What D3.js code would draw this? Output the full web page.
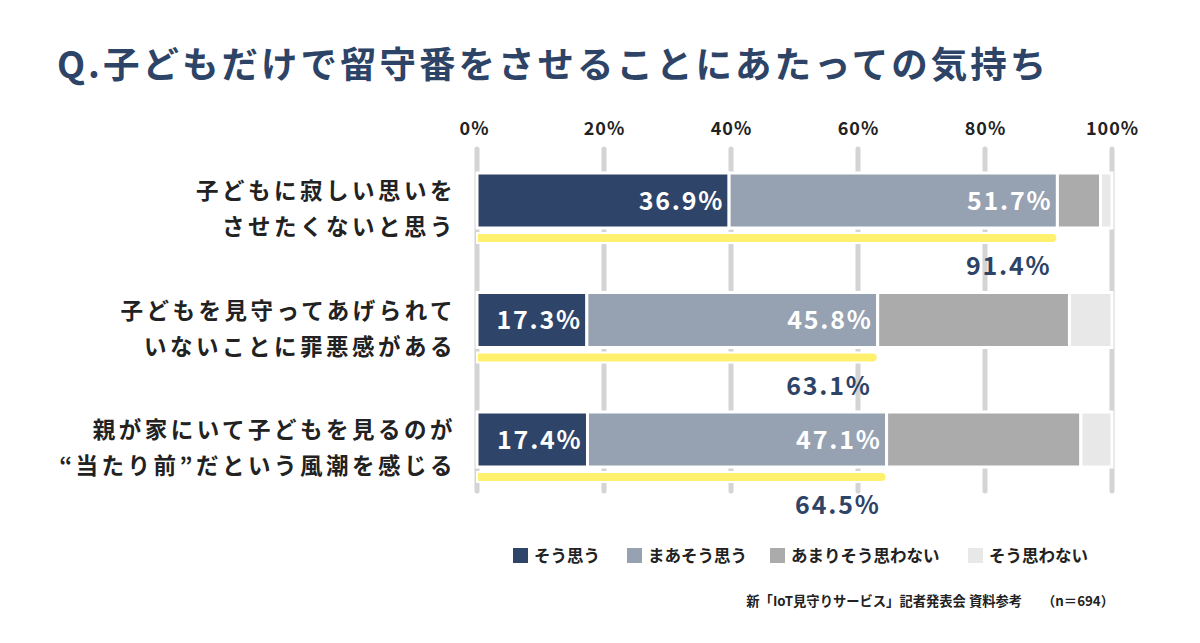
<!DOCTYPE html>
<html><head><meta charset="utf-8">
<script src="https://cdn.jsdelivr.net/npm/d3@7"></script>
<style>
html,body{margin:0;padding:0;background:#fff;}
text{font-family:"Noto Sans CJK JP","Noto Sans",sans-serif;}
</style></head>
<body>
<svg id="chart" width="1200" height="643"></svg>
<script>
const title = "Q.子どもだけで留守番をさせることにあたっての気持ち";
const categories = [
  ["子どもに寂しい思いを","させたくないと思う"],
  ["子どもを見守ってあげられて","いないことに罪悪感がある"],
  ["親が家にいて子どもを見るのが","“当たり前”だという風潮を感じる"]
];
const seriesNames = ["そう思う","まあそう思う","あまりそう思わない","そう思わない"];
const seriesColors = ["#2e4569","#96a2b2","#ababab","#e8e8e8"];
const soOmou      = [39.7, 17.3, 17.4];
const maaSoOmou   = [51.7, 45.8, 47.1];
const amariOmowanai = [6.8, 30.2, 30.6];
const soOmowanai  = [1.8, 6.7, 4.9];
const barLabels = [["36.9%","51.7%"],["17.3%","45.8%"],["17.4%","47.1%"]];
const totals = [91.4, 63.1, 64.5];
const tickValues = [0,20,40,60,80,100];
const source = "新「IoT見守りサービス」記者発表会 資料参考　　（n＝694）";

const svg = d3.select("#chart");
const x = d3.scaleLinear().domain([0,100]).range([477,1112]);
const bh = 55;
const rowTop = i => 173 + i*119.5;

// title
svg.append("text").attr("x",57).attr("y",78).attr("fill","#2d4467")
  .attr("font-size",36.5).attr("font-weight",700).attr("letter-spacing",3).text(title);

// gridlines
svg.append("g").selectAll("line").data(tickValues).join("line")
  .attr("x1",d=>x(d)).attr("x2",d=>x(d)).attr("y1",149).attr("y2",491)
  .attr("stroke","#d4d4d4").attr("stroke-width",5).attr("stroke-linecap","round");

// axis ticks
const axis = d3.axisTop(x).tickValues(tickValues).tickFormat(d=>d+"%").tickSize(0);
const ag = svg.append("g").attr("transform","translate(0,138)").call(axis);
ag.select(".domain").remove();
ag.selectAll("text").attr("font-size",18).attr("font-weight",700).attr("fill","#222")
  .attr("letter-spacing",1).attr("font-family",'"Noto Sans CJK JP",sans-serif');
ag.selectAll(".tick").filter(d=>d===0).select("text").attr("dx",-3);

const series = [soOmou, maaSoOmou, amariOmowanai, soOmowanai];
const rows = categories.map((c,i)=>{
  let acc=0;
  return series.map((s,k)=>{const r={i,k,x0:acc,x1:acc+s[i]}; acc+=s[i]; return r;});
});

rows.forEach((segs,i)=>{
  const g = svg.append("g");
  g.selectAll("rect").data(segs).join("rect")
    .attr("x",d=>x(d.x0)).attr("width",d=>Math.max(0,x(d.x1)-x(d.x0)))
    .attr("y",rowTop(i)).attr("height",bh)
    .attr("fill",d=>seriesColors[d.k]).attr("stroke","#fff").attr("stroke-width",3);
  g.selectAll("text.bl").data(segs.slice(0,2)).join("text").attr("class","bl")
    .attr("x",d=>x(d.x1)-5).attr("y",rowTop(i)+bh/2+9)
    .attr("text-anchor","end").attr("fill","#fff").attr("font-size",25).attr("font-weight",700)
    .attr("letter-spacing",1.8)
    .text(d=>barLabels[i][d.k]);
  // yellow total line
  const yl = rowTop(i)+bh+10;
  g.append("path")
    .attr("d",`M${x(0)},${yl-5}H${x(totals[i])-5}A5,5 0 0 1 ${x(totals[i])-5},${yl+5}H${x(0)}Z`)
    .attr("fill","#fff06e").attr("stroke","#fff").attr("stroke-width",2);
  g.append("text").attr("x",x(totals[i])-6).attr("y",yl+37)
    .attr("text-anchor","end").attr("fill","#2d4467").attr("font-size",25).attr("font-weight",700)
    .attr("letter-spacing",1.8)
    .text(totals[i].toFixed(1)+"%");
  // category labels
  g.selectAll("text.cat").data(categories[i]).join("text").attr("class","cat")
    .attr("x",456).attr("y",(d,j)=>rowTop(i)+26+j*36)
    .attr("text-anchor","end").attr("fill","#222").attr("font-size",22.5).attr("font-weight",700)
    .attr("letter-spacing",3.5)
    .text(d=>d);
});

// legend
const legX = [513,627,770,968];
const lg = svg.append("g");
seriesNames.forEach((n,k)=>{
  lg.append("rect").attr("x",legX[k]).attr("y",548).attr("width",15).attr("height",15).attr("fill",seriesColors[k]);
  lg.append("text").attr("x",legX[k]+21).attr("y",562).attr("font-size",16.5).attr("font-weight",700).attr("fill","#222").text(n);
});

svg.append("text").attr("x",1114).attr("y",606).attr("text-anchor","end")
  .attr("font-size",13.3).attr("font-weight",700).attr("fill","#222").text(source);
</script>
</body></html>
